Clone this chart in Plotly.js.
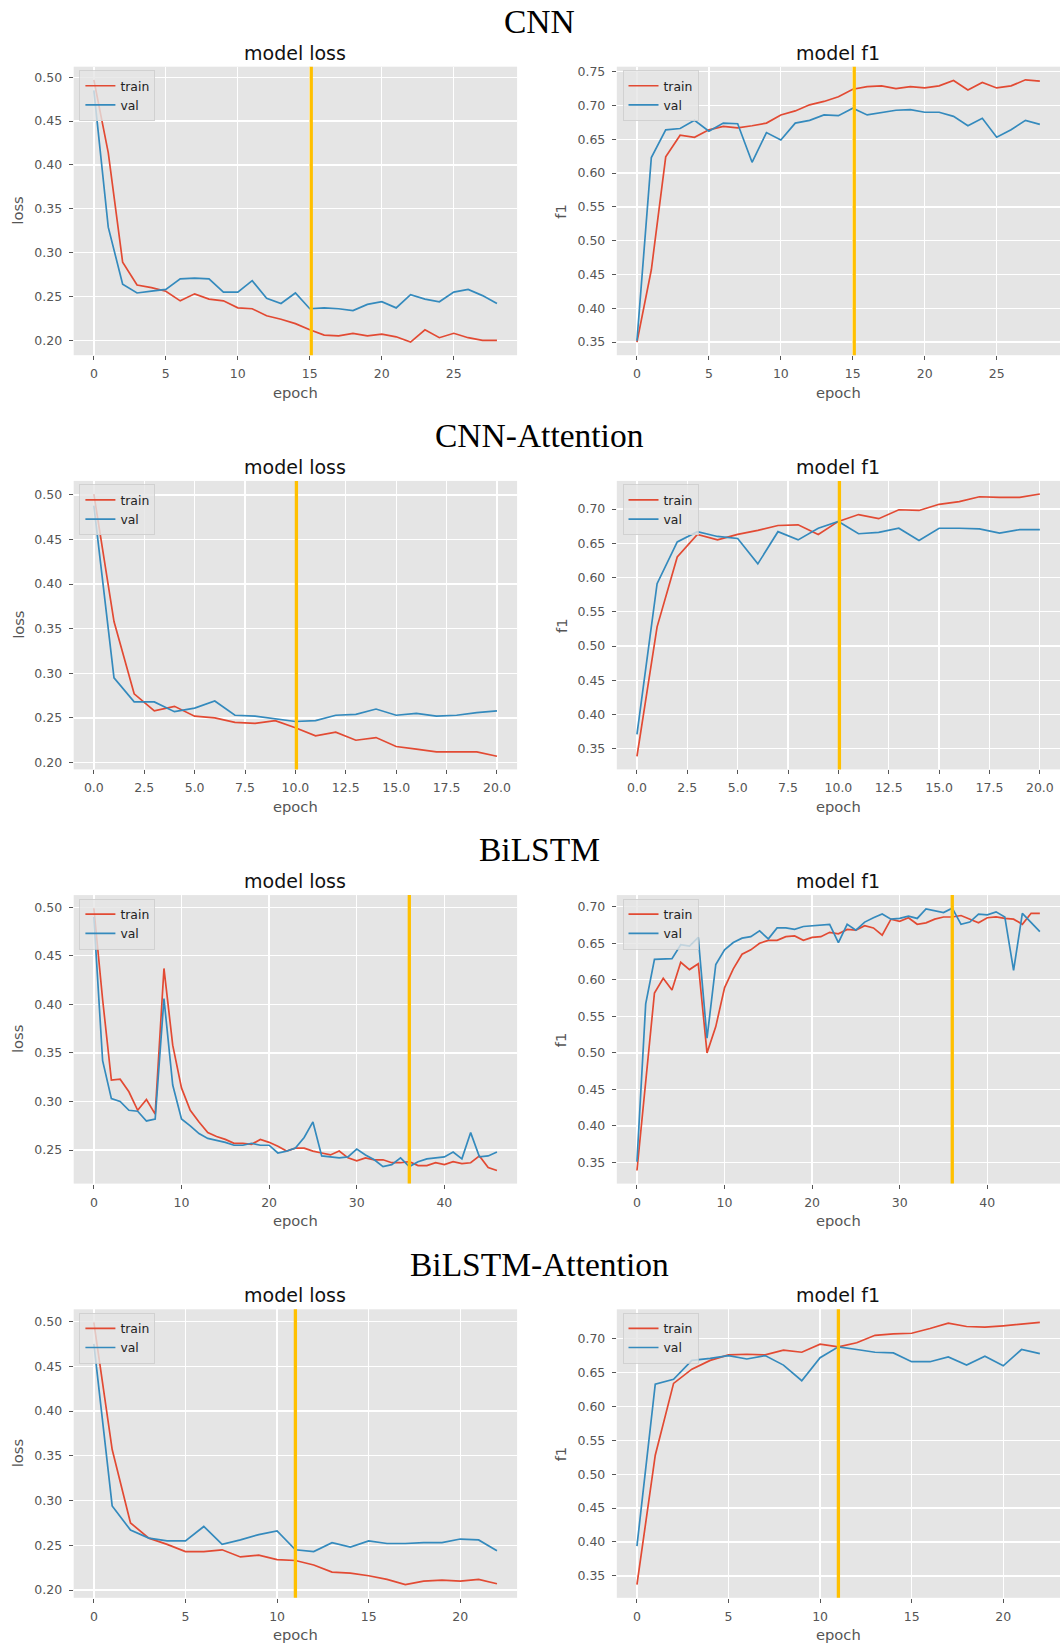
<!DOCTYPE html>
<html><head><meta charset="utf-8">
<script src="https://cdn.plot.ly/plotly-3.0.1.min.js"></script>
<style>html,body{margin:0;padding:0;background:#fff;overflow:hidden}</style>
</head><body><div id="chart" style="width:1063px;height:1645px"></div>
<script>
// ---- data ----
const models = ["CNN", "CNN-Attention", "BiLSTM", "BiLSTM-Attention"];
const panelTitles = ["model loss", "model f1"];
const yLabels = ["loss", "f1"];
const seriesNames = ["train", "val"];
const bestEpoch = [15.1, 10.05, 36, 11];
const xTickStep = [5, 2.5, 10, 5];
const xTickFormat = ["d", ".1f", "d", "d"];

const cnnLossTrain = [0.497,0.414,0.289,0.263,0.260,0.256,0.245,0.253,0.247,0.245,0.237,0.236,0.228,0.224,0.219,0.212,0.206,0.205,0.208,0.205,0.207,0.204,0.198,0.212,0.203,0.208,0.203,0.200,0.200];
const cnnLossVal   = [0.485,0.329,0.264,0.254,0.256,0.258,0.270,0.271,0.270,0.255,0.255,0.268,0.248,0.242,0.254,0.236,0.237,0.236,0.234,0.241,0.244,0.237,0.252,0.247,0.244,0.255,0.258,0.251,0.242];
const cnnF1Train   = [0.350,0.457,0.624,0.656,0.653,0.664,0.669,0.667,0.670,0.674,0.686,0.692,0.701,0.706,0.713,0.724,0.728,0.729,0.725,0.728,0.726,0.729,0.737,0.723,0.734,0.726,0.729,0.738,0.736];
const cnnF1Val     = [0.352,0.623,0.664,0.666,0.678,0.662,0.674,0.673,0.616,0.660,0.649,0.674,0.678,0.686,0.685,0.696,0.686,0.690,0.693,0.694,0.690,0.690,0.684,0.670,0.681,0.653,0.664,0.678,0.672];

const cnnAttLossTrain = [0.501,0.358,0.277,0.258,0.263,0.252,0.250,0.245,0.244,0.247,0.239,0.230,0.234,0.225,0.228,0.218,0.215,0.212,0.212,0.212,0.207];
const cnnAttLossVal   = [0.488,0.295,0.268,0.268,0.257,0.261,0.269,0.253,0.252,0.249,0.246,0.247,0.253,0.254,0.260,0.253,0.255,0.252,0.253,0.256,0.258];
const cnnAttF1Train   = [0.339,0.528,0.630,0.663,0.655,0.663,0.669,0.676,0.677,0.663,0.682,0.692,0.686,0.699,0.698,0.707,0.711,0.718,0.717,0.717,0.722];
const cnnAttF1Val     = [0.371,0.591,0.652,0.667,0.660,0.657,0.620,0.667,0.655,0.672,0.682,0.664,0.666,0.672,0.654,0.672,0.672,0.671,0.665,0.670,0.670];

const lstmLossTrain = [0.499,0.405,0.322,0.323,0.310,0.291,0.302,0.287,0.437,0.358,0.314,0.291,0.279,0.268,0.264,0.261,0.257,0.257,0.256,0.261,0.258,0.254,0.249,0.252,0.252,0.249,0.247,0.245,0.249,0.242,0.239,0.242,0.240,0.240,0.237,0.237,0.238,0.234,0.234,0.237,0.235,0.238,0.236,0.237,0.244,0.232,0.229];
const lstmLossVal   = [0.490,0.342,0.303,0.300,0.291,0.290,0.280,0.282,0.406,0.317,0.282,0.275,0.267,0.262,0.260,0.258,0.255,0.255,0.257,0.255,0.255,0.247,0.249,0.252,0.263,0.279,0.244,0.243,0.242,0.243,0.251,0.245,0.240,0.233,0.235,0.242,0.233,0.238,0.241,0.242,0.243,0.248,0.241,0.268,0.243,0.244,0.248];
const lstmF1Train   = [0.339,0.460,0.582,0.602,0.586,0.624,0.614,0.622,0.500,0.536,0.589,0.615,0.635,0.641,0.650,0.654,0.654,0.659,0.660,0.654,0.658,0.659,0.665,0.663,0.669,0.668,0.674,0.671,0.661,0.683,0.680,0.685,0.676,0.678,0.683,0.686,0.686,0.688,0.683,0.678,0.685,0.686,0.684,0.683,0.676,0.691,0.691];
const lstmF1Val     = [0.351,0.567,0.628,0.628,0.629,0.648,0.646,0.658,0.520,0.621,0.641,0.651,0.657,0.659,0.667,0.656,0.671,0.671,0.669,0.673,0.674,0.676,0.676,0.651,0.676,0.668,0.679,0.685,0.690,0.683,0.684,0.687,0.684,0.697,0.695,0.692,0.698,0.676,0.679,0.690,0.689,0.693,0.686,0.613,0.691,0.679,0.666];

const lstmAttLossTrain = [0.499,0.357,0.275,0.258,0.251,0.243,0.243,0.245,0.237,0.239,0.234,0.233,0.228,0.220,0.219,0.216,0.212,0.206,0.210,0.211,0.210,0.212,0.207];
const lstmAttLossVal   = [0.475,0.294,0.267,0.258,0.255,0.255,0.271,0.251,0.256,0.262,0.266,0.245,0.243,0.253,0.248,0.255,0.252,0.252,0.253,0.253,0.257,0.256,0.244];
const lstmAttF1Train   = [0.337,0.528,0.634,0.655,0.668,0.676,0.677,0.676,0.683,0.680,0.692,0.688,0.694,0.705,0.707,0.708,0.715,0.723,0.718,0.717,0.719,0.721,0.724];
const lstmAttF1Val     = [0.394,0.633,0.640,0.668,0.671,0.675,0.670,0.675,0.661,0.638,0.672,0.688,0.684,0.680,0.679,0.666,0.666,0.673,0.661,0.674,0.660,0.684,0.678];

// panels[row][col] = [train, val]
const panels = [
  [[cnnLossTrain, cnnLossVal], [cnnF1Train, cnnF1Val]],
  [[cnnAttLossTrain, cnnAttLossVal], [cnnAttF1Train, cnnAttF1Val]],
  [[lstmLossTrain, lstmLossVal], [lstmF1Train, lstmF1Val]],
  [[lstmAttLossTrain, lstmAttLossVal], [lstmAttF1Train, lstmAttF1Val]]
];

// ---- geometry / style ----
const W = 1063, H = 1645;
const colX = [[73.7, 517.1], [616.8, 1060]];
const rowTop0 = 66.7, rowStep = 414.2, plotH = 288.5;
const colors = ["#E24A33", "#348ABD"];
const FONT = "DejaVu Sans, sans-serif";
const px = v => v / W;
const py = v => 1 - v / H;

const traces = [], shapes = [], annotations = [];
const layout = {
  width: W, height: H,
  margin: {l: 0, r: 0, t: 0, b: 0},
  paper_bgcolor: "#ffffff",
  plot_bgcolor: "#E5E5E5",
  font: {family: FONT, color: "#555555"},
  showlegend: true
};

function niceRange(arrs) {
  let mn = Infinity, mx = -Infinity;
  arrs.forEach(a => a.forEach(v => { if (v < mn) mn = v; if (v > mx) mx = v; }));
  const m = (mx - mn) * 0.05;
  return [mn - m, mx + m];
}

for (let r = 0; r < 4; r++) {
  const top = rowTop0 + rowStep * r, bot = top + plotH;
  annotations.push({
    text: models[r], xref: "paper", yref: "paper", x: px(539), y: py(top - 45.3),
    xanchor: "center", yanchor: "middle", showarrow: false,
    font: {family: "Liberation Serif, serif", size: 33.5, color: "#000"}
  });
  for (let c = 0; c < 2; c++) {
    const k = r * 2 + c + 1;
    const sfx = k === 1 ? "" : String(k);
    const [x0, x1] = colX[c];
    const [train, val] = panels[r][c];
    const n = train.length;
    const epochs = train.map((_, i) => i);
    const xr = [-(n - 1) * 0.05, (n - 1) * 1.05];
    const yr = niceRange([train, val]);
    const legName = k === 1 ? "legend" : "legend" + k;

    [train, val].forEach((ys, s) => {
      traces.push({
        x: epochs, y: ys, type: "scatter", mode: "lines", name: seriesNames[s],
        xaxis: "x" + sfx, yaxis: "y" + sfx, legend: legName,
        line: {color: colors[s], width: 1.7}, hoverinfo: "skip"
      });
    });

    layout["xaxis" + sfx] = {
      domain: [px(x0), px(x1)], anchor: "y" + sfx, range: xr,
      dtick: xTickStep[r], tick0: 0, tickformat: xTickFormat[r],
      showgrid: true, gridcolor: "#ffffff", gridwidth: 1.3, zeroline: false,
      showline: false, ticks: "outside", ticklen: 4, tickwidth: 1, tickcolor: "#555555",
      ticklabelstandoff: 3,
      tickfont: {family: FONT, size: 12.5, color: "#555555"}, fixedrange: true
    };
    layout["yaxis" + sfx] = {
      domain: [py(bot), py(top)], anchor: "x" + sfx, range: yr,
      dtick: 0.05, tick0: 0, tickformat: ".2f",
      showgrid: true, gridcolor: "#ffffff", gridwidth: 1.3, zeroline: false,
      showline: false, ticks: "outside", ticklen: 4, tickwidth: 1, tickcolor: "#555555",
      ticklabelstandoff: 4,
      tickfont: {family: FONT, size: 12.5, color: "#555555"}, fixedrange: true
    };
    layout[legName] = {
      x: px(x0 + 5.7), y: py(top + 3.5), xanchor: "left", yanchor: "top",
      xref: "paper", yref: "paper",
      bgcolor: "rgba(229,229,229,0.8)", bordercolor: "rgba(204,204,204,0.8)", borderwidth: 1,
      font: {family: FONT, size: 12.4, color: "#222222"},
      itemwidth: 30, tracegroupgap: 0
    };

    shapes.push({
      type: "line", xref: "x" + sfx, yref: "y" + sfx + " domain",
      x0: bestEpoch[r], x1: bestEpoch[r], y0: 0, y1: 1,
      line: {color: "#FFC000", width: 3.3}, layer: "above"
    });

    const cx = (x0 + x1) / 2;
    annotations.push({
      text: panelTitles[c], xref: "paper", yref: "paper", x: px(cx), y: py(top - 14),
      xanchor: "center", yanchor: "middle", showarrow: false,
      font: {family: FONT, size: 19, color: "#111111"}
    });
    annotations.push({
      text: "epoch", xref: "paper", yref: "paper", x: px(cx), y: py(bot + 37),
      xanchor: "center", yanchor: "middle", showarrow: false,
      font: {family: FONT, size: 14.7, color: "#555555"}
    });
    annotations.push({
      text: yLabels[c], xref: "paper", yref: "paper", x: px(x0 - 56), y: py((top + bot) / 2),
      xanchor: "center", yanchor: "middle", showarrow: false, textangle: -90,
      font: {family: FONT, size: 14.7, color: "#555555"}
    });
  }
}
layout.shapes = shapes;
layout.annotations = annotations;

Plotly.newPlot("chart", traces, layout, {staticPlot: true, displayModeBar: false});
</script>
</body></html>
